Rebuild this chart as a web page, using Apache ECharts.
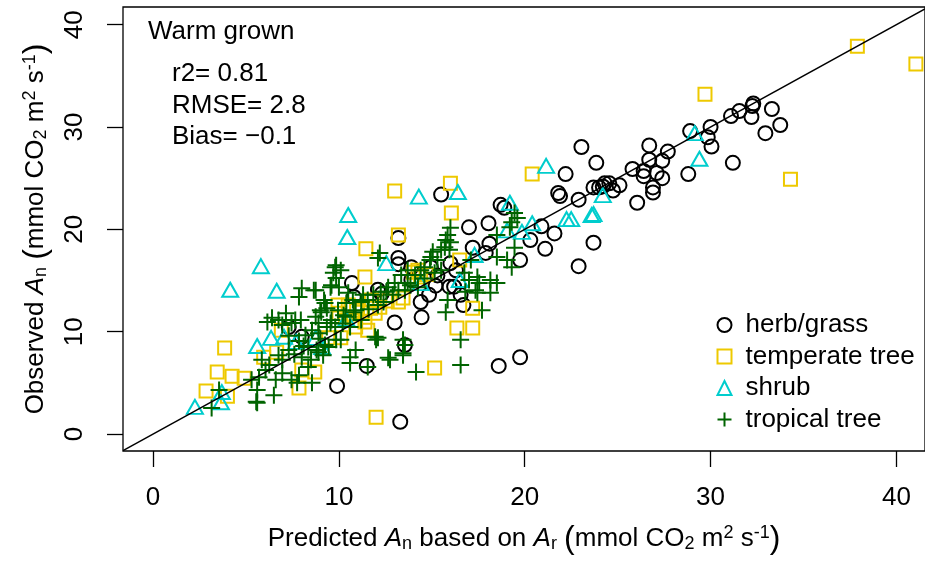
<!DOCTYPE html>
<html>
<head>
<meta charset="utf-8">
<script src="https://cdn.jsdelivr.net/npm/echarts@6/dist/echarts.min.js"></script>
<style>
  html, body { margin: 0; padding: 0; background: #fff; }
  #chart { width: 925px; height: 563px; }
</style>
</head>
<body>
<div id="chart"></div>
<script>
// 数据
const herbGrass = [
  [32.3,32.3],[32.25,32.05],[31.55,31.56],[31.1,31.07],[32.2,30.98],[33.3,31.76],[33.75,30.2],[32.95,29.4],
  [30.0,30.0],[28.9,29.6],[29.85,29.0],[30.05,28.1],[31.2,26.5],[28.8,25.4],[26.7,28.2],[27.7,27.6],
  [26.7,26.8],[27.4,26.7],[25.8,25.9],[26.4,25.7],[26.4,25.2],[27.1,25.5],[27.4,25.0],[26.9,24.1],
  [26.9,23.6],[26.05,22.6],[23.85,26.5],[25.1,24.3],[24.55,24.5],[24.2,24.2],[24.75,23.8],[24.3,24.5],
  [23.05,28.05],[22.2,25.4],[21.8,23.55],[21.9,23.25],[22.9,22.9],[23.7,24.1],[24.0,24.1],
  [23.7,18.7],[22.9,16.4],[21.1,18.1],[21.6,19.6],[20.3,18.95],[20.9,20.3],[19.75,17.0],[18.7,22.4],
  [18.9,22.1],[18.05,20.6],[17.0,20.2],[15.5,23.4],[17.2,18.2],[17.9,17.7],[18.1,18.6],[13.9,16.3],
  [13.2,17.2],[13.2,19.15],[14.4,12.9],[14.85,13.6],[15.2,14.5],[16.2,14.4],[16.55,13.6],[16.7,12.6],
  [14.45,11.4],[13.0,10.9],[13.55,8.7],[18.6,6.65],[19.75,7.5],[13.3,1.2],[13.2,16.6],[13.9,15.05],
  [10.7,14.75],[10.8,13.4],[12.1,14.1],[12.3,13.7],[7.3,10.45],[8.0,9.5],[14.95,16.3],[15.3,15.5],
  [16.0,16.7],[16.3,16.0],[15.95,14.4],[9.9,4.7],[11.5,6.65]
];
const temperateTree = [
  [37.9,37.9],[41.05,36.15],[29.7,33.2],[34.3,24.9],[20.4,25.4],[16.0,24.5],[16.05,21.6],[13.0,23.75],
  [13.2,19.45],[11.45,18.1],[11.4,15.35],[9.95,12.6],[11.75,13.1],[13.2,12.9],[13.45,13.3],[14.0,15.8],
  [14.4,15.35],[10.5,12.6],[10.95,12.1],[11.2,11.9],[11.7,12.3],[12.2,12.4],[10.0,11.8],[10.35,11.1],
  [10.8,11.1],[11.4,10.95],[11.95,11.8],[11.55,10.15],[9.45,9.4],[10.1,9.4],[6.9,10.15],[17.2,12.3],
  [16.35,10.35],[17.2,10.35],[15.15,6.45],[12.0,1.65],[3.85,8.4],[3.45,6.05],[4.25,5.65],[4.9,5.45],
  [2.85,4.2],[4.0,3.7],[5.95,7.5],[6.65,8.0],[8.0,6.25],[8.7,6.05],[7.85,4.5],[10.9,10.45],
  [14.25,16.0],[16.5,17.0],[12.6,13.0],[14.7,15.6]
];
const shrub = [
  [29.15,29.4],[29.4,26.9],[24.2,23.35],[21.15,26.2],[14.3,23.2],[16.4,23.65],[19.2,22.6],[20.4,20.6],
  [22.25,21.0],[22.5,21.0],[23.6,21.4],[23.7,21.5],[17.3,17.5],[16.5,15.05],[10.5,21.4],[10.45,19.25],
  [5.8,16.4],[4.15,14.1],[6.65,14.0],[12.55,16.7],[5.6,8.6],[6.35,9.4],[7.05,9.5],[7.7,9.0],
  [9.1,8.5],[10.4,11.25],[3.7,4.1],[3.65,3.1],[2.25,2.65],[8.75,9.4],[14.4,14.75],[19.05,19.9],
  [19.85,19.75]
];
const tropicalTree = [
  [15.05,17.8],[14.9,17.0],[14.4,16.0],[13.85,14.55],[15.15,15.75],[12.1,17.2],[9.8,16.3],[9.7,15.75],
  [9.85,15.25],[9.6,14.55],[10.1,16.0],[8.0,14.25],[8.65,14.05],[7.85,13.4],[9.2,13.1],[9.0,12.1],
  [9.35,12.3],[9.6,11.15],[9.35,10.45],[9.8,10.45],[8.9,10.85],[8.75,11.45],[8.55,10.15],[8.2,9.65],
  [7.95,11.15],[7.15,11.8],[6.75,11.15],[7.45,10.85],[10.9,12.1],[11.2,12.9],[11.85,13.6],[12.25,13.9],
  [12.65,14.35],[13.0,14.75],[11.55,13.1],[10.4,12.8],[10.35,11.45],[10.6,10.45],[11.2,11.15],[11.95,9.5],
  [13.55,8.7],[13.45,7.9],[10.9,8.2],[10.6,7.5],[9.85,9.2],[9.25,8.7],[8.9,8.0],[8.35,8.5],
  [16.0,20.15],[15.85,19.45],[15.75,18.95],[16.0,18.75],[15.7,18.25],[15.5,18.0],[15.95,18.0],[19.45,21.6],
  [19.6,21.1],[19.3,20.7],[19.2,20.2],[18.5,19.45],[19.45,18.2],[18.5,17.3],[19.05,17.0],[19.3,16.3],
  [18.15,15.05],[18.5,14.75],[17.45,15.35],[17.1,17.0],[16.75,15.75],[17.0,15.05],[17.35,14.05],[16.8,13.9],
  [15.3,17.0],[14.95,17.3],[14.6,16.3],[13.7,16.0],[13.35,15.55],[14.1,15.55],[14.25,14.35],[13.55,14.05],
  [15.5,16.0],[12.55,13.9],[13.2,14.05],[13.7,14.75],[12.1,12.6],[15.85,13.1],[15.75,11.9],[17.55,14.75],
  [18.15,13.8],[17.7,12.1],[17.45,13.8],[12.1,9.4],[13.45,9.2],[12.75,7.25],[13.45,7.7],[14.15,6.05],
  [16.55,9.2],[16.55,6.75],[8.75,14.05],[9.55,14.35],[10.5,13.8],[6.15,10.95],[7.65,11.15],[6.95,10.65],
  [9.05,11.9],[9.55,10.85],[8.9,9.85],[10.1,9.2],[9.45,8.5],[8.8,8.2],[7.3,8.2],[6.95,7.25],
  [8.0,7.5],[8.35,6.55],[7.85,5.75],[7.45,5.3],[6.95,5.95],[6.6,5.3],[6.05,6.25],[5.7,5.55],
  [5.3,5.3],[5.6,4.3],[5.85,7.25],[6.5,3.8],[5.6,3.05],[3.55,4.3],[3.15,2.55],[7.75,5.0],
  [8.55,5.0],[12.0,9.2],[12.65,7.45],[11.55,6.55],[10.6,6.95],[9.85,16.5],[10.0,14.35],[9.25,12.8],
  [6.4,11.35],[5.55,3.15],[12.2,17.7],[7.3,9.6],[7.85,9.1],[6.75,7.7],[6.25,6.75],[9.95,12.1],
  [10.25,11.6],[10.75,13.1],[11.3,13.6],[8.5,7.25],[9.15,7.7],[11.6,12.2],[12.4,12.9],[10.2,10.8],
  [9.0,9.3],[8.1,8.6],[7.6,7.8],[10.8,11.9],[12.9,13.6],[14.6,15.2]
];
const tickValues = [0, 10, 20, 30, 40];
const xRange = [-1.62, 41.54];
const yRange = [-1.66, 41.73];
const statLines = ['r2= 0.81', 'RMSE= 2.8', 'Bias= \u22120.1'];

const FONT = 'Liberation Sans, Arial, Helvetica, sans-serif';
const FS = 26;

const chart = echarts.init(document.getElementById('chart'));

const richName = {
  i: { fontStyle: 'italic', fontSize: FS, fontFamily: FONT, color: '#000' },
  sub: { fontSize: 18, fontFamily: FONT, color: '#000', padding: [11, 0, 0, 0] },
  sup: { fontSize: 18, fontFamily: FONT, color: '#000', padding: [0, 0, 11, 0] },
  p: { fontSize: 32, fontFamily: FONT, color: '#000' }
};

function scatterSeries(name, data, symbol, size, color) {
  return {
    name: name,
    type: 'scatter',
    data: data,
    symbol: symbol,
    symbolSize: size,
    itemStyle: { color: 'none', borderColor: color, borderWidth: 2, opacity: 1 },
    emphasis: { disabled: true },
    silent: true
  };
}

const option = {
  animation: false,
  backgroundColor: '#fff',
  textStyle: { fontFamily: FONT },
  grid: {
    left: 123, top: 7, right: -6, bottom: 112,
    show: true, borderColor: '#000', borderWidth: 1.3, backgroundColor: 'transparent'
  },
  legend: {
    orient: 'vertical',
    left: 710, top: 307,
    itemWidth: 14, itemHeight: 14, itemGap: 5.5,
    textStyle: { fontSize: FS, fontFamily: FONT, color: '#000', lineHeight: 14, padding: [0, 0, 0, 9] },
    data: ['herb/grass', 'temperate tree', 'shrub', 'tropical tree']
  },
  xAxis: {
    type: 'value',
    min: xRange[0], max: xRange[1],
    splitLine: { show: false },
    axisLine: { show: false, onZero: false },
    axisTick: { show: true, length: 16, customValues: tickValues, lineStyle: { color: '#000', width: 1.3 } },
    axisLabel: { customValues: tickValues, margin: 34, fontSize: FS, fontFamily: FONT, color: '#000' },
    name: 'Predicted {i|A}{sub|n} based on {i|A}{sub|r} {p|(}mmol CO{sub|2} m{sup|2} s{sup|-1}{p|)}',
    nameLocation: 'middle',
    nameGap: 72,
    nameTextStyle: { fontSize: FS, fontFamily: FONT, color: '#000', rich: richName }
  },
  yAxis: {
    type: 'value',
    min: yRange[0], max: yRange[1],
    splitLine: { show: false },
    axisLine: { show: false, onZero: false },
    axisTick: { show: true, length: 16, customValues: tickValues, lineStyle: { color: '#000', width: 1.3 } },
    axisLabel: { customValues: tickValues, rotate: 90, margin: 35, fontSize: FS, fontFamily: FONT, color: '#000' },
    name: 'Observed {i|A}{sub|n} {p|(}mmol CO{sub|2} m{sup|2} s{sup|-1}{p|)}',
    nameLocation: 'middle',
    nameGap: 71,
    nameRotate: 90,
    nameTextStyle: { fontSize: FS, fontFamily: FONT, color: '#000', rich: richName }
  },
  graphic: [
    { type: 'text', x: 148, y: 32, silent: true,
      style: { text: 'Warm grown', font: FS + 'px ' + FONT, fill: '#000', align: 'left', verticalAlign: 'middle' } }
  ].concat(statLines.map((t, i) => ({
    type: 'text', x: 172, y: 74 + i * 31.5, silent: true,
    style: { text: t, font: FS + 'px ' + FONT, fill: '#000', align: 'left', verticalAlign: 'middle' }
  }))),
  series: [
    scatterSeries('herb/grass', herbGrass, 'circle', 14, '#000000'),
    scatterSeries('temperate tree', temperateTree, 'rect', 13, '#EEC900'),
    scatterSeries('shrub', shrub, 'triangle', [16, 14], '#00CDCD'),
    scatterSeries('tropical tree', tropicalTree, 'path://M0,8L16,8M8,0L8,16', 17, '#006400'),
    {
      type: 'line',
      data: [[xRange[0], xRange[0]], [xRange[1], xRange[1]]],
      symbol: 'none',
      clip: true,
      silent: true,
      lineStyle: { color: '#000', width: 1.5 },
      z: 5
    }
  ]
};

chart.setOption(option);
</script>
</body>
</html>
